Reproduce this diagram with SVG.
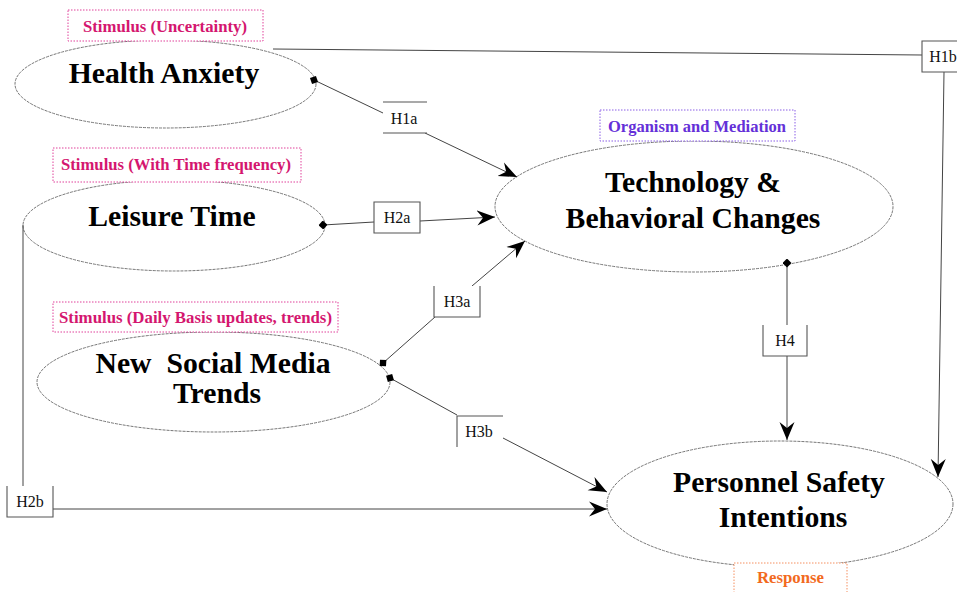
<svg xmlns="http://www.w3.org/2000/svg" width="957" height="592" viewBox="0 0 957 592">
<style>
.bg{fill:#ffffff}
.node{fill:#ffffff;stroke:#666666;stroke-width:0.9;stroke-dasharray:3 1}
.title{font-family:"Liberation Serif","Times New Roman",serif;font-weight:bold;font-size:29.7px;fill:#000;text-anchor:middle}
.tag{font-family:"Liberation Serif","Times New Roman",serif;font-weight:bold;font-size:16.5px;text-anchor:middle}
.tagbox{fill:#ffffff;stroke-width:1;stroke-dasharray:1.5 1.5}
.mag{fill:#d4166f}
.magb{stroke:#e0409a}
.pur{fill:#6430d8}
.purb{stroke:#8a5ee6}
.ora{fill:#f26a1e}
.orab{stroke:#f59060}
.conn{fill:none;stroke:#444444;stroke-width:1}
.hfill{fill:#ffffff;stroke:none}
.hedge{fill:none;stroke:#555555;stroke-width:1.1}
.hl{font-family:"Liberation Serif","Times New Roman",serif;font-size:16px;fill:#111;text-anchor:middle}
</style>
<defs>
<marker id="arrow" viewBox="0 0 18 16" refX="18" refY="8" markerWidth="18" markerHeight="16" markerUnits="userSpaceOnUse" orient="auto">
<path d="M0,0.5 L18,8 L0,15.5 L6,8 z" fill="#000"/>
</marker>
<marker id="dia" viewBox="0 0 9 9" refX="4.5" refY="4.5" markerWidth="9" markerHeight="9" markerUnits="userSpaceOnUse" orient="auto">
<path d="M0,4.5 L4.5,0 L9,4.5 L4.5,9 z" fill="#000"/>
</marker>
</defs>
<rect class="bg" x="0" y="0" width="957" height="592"/>

<g id="health-anxiety">
<ellipse class="node" cx="165.5" cy="84" rx="150.5" ry="44"/>
<text class="title" x="164" y="83">Health Anxiety</text>
<rect class="tagbox magb" x="68" y="10" width="195" height="31"/>
<text class="tag mag" x="165" y="32" textLength="164" lengthAdjust="spacingAndGlyphs">Stimulus (Uncertainty)</text>
</g>

<g id="leisure-time">
<ellipse class="node" cx="174" cy="225.5" rx="151" ry="45.5"/>
<text class="title" x="172" y="226">Leisure Time</text>
<rect class="tagbox magb" x="53" y="148" width="248" height="34"/>
<text class="tag mag" x="176" y="170" textLength="230" lengthAdjust="spacingAndGlyphs">Stimulus (With Time frequency)</text>
</g>

<g id="social-media">
<ellipse class="node" cx="213.5" cy="382" rx="176.5" ry="50"/>
<text class="title" x="213" y="373" xml:space="preserve">New  Social Media</text>
<text class="title" x="217" y="403">Trends</text>
<rect class="tagbox magb" x="53" y="302" width="285" height="30"/>
<text class="tag mag" x="195.5" y="323" textLength="273" lengthAdjust="spacingAndGlyphs">Stimulus (Daily Basis updates, trends)</text>
</g>

<g id="technology">
<ellipse class="node" cx="694" cy="206.5" rx="199" ry="65.5"/>
<text class="title" x="693" y="192">Technology &amp;</text>
<text class="title" x="693" y="228">Behavioral Changes</text>
<rect class="tagbox purb" x="600" y="110" width="195" height="31"/>
<text class="tag pur" x="697" y="132" textLength="178" lengthAdjust="spacingAndGlyphs">Organism and Mediation</text>
</g>

<g id="personnel-safety">
<ellipse class="node" cx="780" cy="504" rx="173" ry="63"/>
<text class="title" x="779" y="492">Personnel Safety</text>
<text class="title" x="783" y="527">Intentions</text>
<rect class="tagbox orab" x="734" y="563" width="113" height="40"/>
<text class="tag ora" x="790.5" y="583" textLength="67" lengthAdjust="spacingAndGlyphs">Response</text>
</g>

<g id="connectors">
<path class="conn" d="M273,49 L922,55"/>
<path class="conn" d="M944,72 L938,477" marker-end="url(#arrow)"/>
<path class="conn" d="M314,80 L383,113" marker-start="url(#dia)"/>
<path class="conn" d="M425,133 L517,177" marker-end="url(#arrow)"/>
<path class="conn" d="M323,225 L374,222" marker-start="url(#dia)"/>
<path class="conn" d="M420,221 L495,217" marker-end="url(#arrow)"/>
<path class="conn" d="M383,363 L435,317" marker-start="url(#dia)"/>
<path class="conn" d="M472,286 L525,241" marker-end="url(#arrow)"/>
<path class="conn" d="M390,378 L457,415" marker-start="url(#dia)"/>
<path class="conn" d="M503,438 L607,492" marker-end="url(#arrow)"/>
<path class="conn" d="M787,263 L787,325" marker-start="url(#dia)"/>
<path class="conn" d="M787,356 L787,440" marker-end="url(#arrow)"/>
<path class="conn" d="M23,225 L23,486"/>
<path class="conn" d="M53,509 L607,509" marker-end="url(#arrow)"/>
</g>

<g id="label-H1a">
<rect class="hfill" x="383" y="102" width="44" height="31"/>
<path class="hedge" d="M383,102 H427 M383,133 H427"/>
<text class="hl" x="404" y="124">H1a</text>
</g>
<g id="label-H1b">
<rect class="hfill" x="922" y="41" width="40" height="31"/>
<path class="hedge" d="M957,41 H922 V72 H957"/>
<text class="hl" x="943" y="62">H1b</text>
</g>
<g id="label-H2a">
<rect class="hfill" x="374" y="202" width="46" height="31"/>
<path class="hedge" d="M374,202 H420 V233 H374 Z"/>
<text class="hl" x="397" y="223">H2a</text>
</g>
<g id="label-H2b">
<rect class="hfill" x="7" y="486" width="46" height="31"/>
<path class="hedge" d="M7,486 V517 H53 V486"/>
<text class="hl" x="30" y="507">H2b</text>
</g>
<g id="label-H3a">
<rect class="hfill" x="434" y="286" width="46" height="31"/>
<path class="hedge" d="M434,286 V317 H480 V286"/>
<text class="hl" x="457" y="307">H3a</text>
</g>
<g id="label-H3b">
<rect class="hfill" x="457" y="416" width="46" height="31"/>
<path class="hedge" d="M503,416 H457 V447"/>
<text class="hl" x="479" y="437">H3b</text>
</g>
<g id="label-H4">
<rect class="hfill" x="763" y="325" width="44" height="31"/>
<path class="hedge" d="M763,325 V356 H807 V325"/>
<text class="hl" x="785" y="346">H4</text>
</g>
</svg>
